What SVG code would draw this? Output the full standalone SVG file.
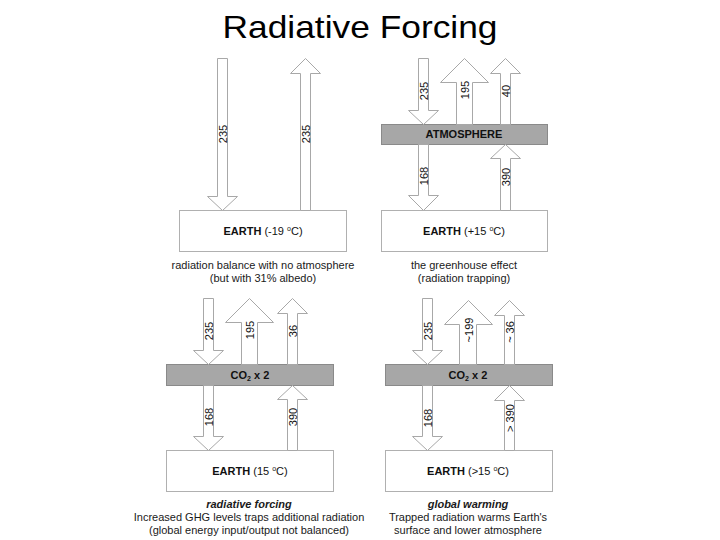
<svg xmlns="http://www.w3.org/2000/svg" width="720" height="540" viewBox="0 0 720 540">
<style>
text { font-family: "Liberation Sans", Arial, Helvetica, sans-serif; fill: #111; text-anchor: middle; }
.title { font-size: 32px; fill: #000; }
.lbl { font-size: 11px; }
.earth { font-size: 11px; }
.bart { font-size: 11px; font-weight: bold; }
.cap { font-size: 11px; fill: #1a1a1a; }
.capb { font-size: 11px; font-weight: bold; font-style: italic; fill: #1a1a1a; }
.arrow { fill: #fff; stroke: #a8a8a8; stroke-width: 1; }
.box { fill: #fff; stroke: #b0b0b0; stroke-width: 1; }
.bar { fill: #a7a7a7; stroke: #8a8a8a; stroke-width: 1; }
</style>
<rect width="720" height="540" fill="#fff"/>
<text class="title" x="360" y="38" textLength="275" lengthAdjust="spacingAndGlyphs">Radiative Forcing</text>

<!-- Panel nodes -->
<g id="tl-earth">
  <rect class="box" x="179.5" y="210.5" width="167" height="41"/>
  <text class="earth" x="263" y="235"><tspan font-weight="bold">EARTH</tspan> (-19 <tspan font-size="7" dy="-4">o</tspan><tspan dy="4">C)</tspan></text>
</g>
<g id="tl-caption">
  <text class="cap" x="263" y="269">radiation balance with no atmosphere</text>
  <text class="cap" x="263" y="282">(but with 31% albedo)</text>
</g>

<g id="tr-atmosphere">
  <rect class="bar" x="381.5" y="124.5" width="166" height="20"/>
  <text class="bart" x="464" y="138">ATMOSPHERE</text>
</g>
<g id="tr-earth">
  <rect class="box" x="381.5" y="210.5" width="166" height="41"/>
  <text class="earth" x="464" y="235"><tspan font-weight="bold">EARTH</tspan> (+15 <tspan font-size="7" dy="-4">o</tspan><tspan dy="4">C)</tspan></text>
</g>
<g id="tr-caption">
  <text class="cap" x="464" y="269">the greenhouse effect</text>
  <text class="cap" x="464" y="282">(radiation trapping)</text>
</g>

<g id="bl-co2">
  <rect class="bar" x="166.5" y="364.5" width="167" height="21"/>
  <text class="bart" x="250" y="379">CO<tspan font-size="7" dy="2">2</tspan><tspan dy="-2"> x 2</tspan></text>
</g>
<g id="bl-earth">
  <rect class="box" x="166.5" y="450.5" width="167" height="41"/>
  <text class="earth" x="250" y="475"><tspan font-weight="bold">EARTH</tspan> (15 <tspan font-size="7" dy="-4">o</tspan><tspan dy="4">C)</tspan></text>
</g>
<g id="bl-caption">
  <text class="capb" x="249" y="508">radiative forcing</text>
  <text class="cap" x="249" y="521">Increased GHG levels traps additional radiation</text>
  <text class="cap" x="249" y="534">(global energy input/output not balanced)</text>
</g>

<g id="br-co2">
  <rect class="bar" x="385.5" y="364.5" width="167" height="21"/>
  <text class="bart" x="468" y="379">CO<tspan font-size="7" dy="2">2</tspan><tspan dy="-2"> x 2</tspan></text>
</g>
<g id="br-earth">
  <rect class="box" x="385.5" y="450.5" width="167" height="41"/>
  <text class="earth" x="468" y="475"><tspan font-weight="bold">EARTH</tspan> (&gt;15 <tspan font-size="7" dy="-4">o</tspan><tspan dy="4">C)</tspan></text>
</g>
<g id="br-caption">
  <text class="capb" x="468" y="508">global warming</text>
  <text class="cap" x="468" y="521">Trapped radiation warms Earth's</text>
  <text class="cap" x="468" y="534">surface and lower atmosphere</text>
</g>

<!-- Connectors (radiation arrows) -->
<g id="connectors">
  <!-- top-left -->
  <polygon class="arrow" points="217.5,58.5 227.5,58.5 227.5,196.5 237.5,196.5 222.5,210.5 207.5,196.5 217.5,196.5"/>
  <polygon class="arrow" points="300.5,210.5 300.5,73.5 290.5,73.5 305.5,58.5 320.5,73.5 310.5,73.5 310.5,210.5"/>
  <!-- top-right -->
  <polygon class="arrow" points="418.5,58.5 428.5,58.5 428.5,110.5 438.5,110.5 423.5,124.5 408.5,110.5 418.5,110.5"/>
  <polygon class="arrow" points="456.5,124.5 456.5,82.5 440.5,82.5 464.5,58.5 488.5,82.5 472.5,82.5 472.5,124.5"/>
  <polygon class="arrow" points="500.5,124.5 500.5,73.5 490.5,73.5 505.5,58.5 520.5,73.5 510.5,73.5 510.5,124.5"/>
  <polygon class="arrow" points="418.5,144.5 428.5,144.5 428.5,195.5 438.5,195.5 423.5,210.5 408.5,195.5 418.5,195.5"/>
  <polygon class="arrow" points="500.5,210.5 500.5,158.5 490.5,158.5 505.5,144.5 520.5,158.5 510.5,158.5 510.5,210.5"/>
  <!-- bottom-left -->
  <polygon class="arrow" points="203.5,298.5 213.5,298.5 213.5,350.5 223.5,350.5 208.5,364.5 193.5,350.5 203.5,350.5"/>
  <polygon class="arrow" points="241.5,364.5 241.5,322.5 225.5,322.5 249.5,298.5 273.5,322.5 257.5,322.5 257.5,364.5"/>
  <polygon class="arrow" points="287.5,364.5 287.5,313.5 277.5,313.5 292.5,298.5 307.5,313.5 297.5,313.5 297.5,364.5"/>
  <polygon class="arrow" points="203.5,385.5 213.5,385.5 213.5,436.5 223.5,436.5 208.5,450.5 193.5,436.5 203.5,436.5"/>
  <polygon class="arrow" points="287.5,450.5 287.5,399.5 277.5,399.5 292.5,385.5 307.5,399.5 297.5,399.5 297.5,450.5"/>
  <!-- bottom-right -->
  <polygon class="arrow" points="422.5,298.5 432.5,298.5 432.5,350.5 442.5,350.5 427.5,364.5 412.5,350.5 422.5,350.5"/>
  <polygon class="arrow" points="459.5,364.5 459.5,324.5 444.5,324.5 468.5,300.5 492.5,324.5 476.5,324.5 476.5,364.5"/>
  <polygon class="arrow" points="504.5,364.5 504.5,315.5 494.5,315.5 509.5,300.5 524.5,315.5 514.5,315.5 514.5,364.5"/>
  <polygon class="arrow" points="422.5,385.5 432.5,385.5 432.5,436.5 442.5,436.5 427.5,450.5 412.5,436.5 422.5,436.5"/>
  <polygon class="arrow" points="504.5,450.5 504.5,400.5 494.5,400.5 509.5,385.5 524.5,400.5 514.5,400.5 514.5,450.5"/>

  <!-- labels -->
  <text class="lbl" transform="translate(222.5,134) rotate(-90)" y="4">235</text>
  <text class="lbl" transform="translate(305.5,134) rotate(-90)" y="4">235</text>
  <text class="lbl" transform="translate(423.5,91) rotate(-90)" y="4">235</text>
  <text class="lbl" transform="translate(464.5,90) rotate(-90)" y="4">195</text>
  <text class="lbl" transform="translate(505.5,91) rotate(-90)" y="4">40</text>
  <text class="lbl" transform="translate(423.5,176) rotate(-90)" y="4">168</text>
  <text class="lbl" transform="translate(505.5,177) rotate(-90)" y="4">390</text>
  <text class="lbl" transform="translate(208.5,331) rotate(-90)" y="4">235</text>
  <text class="lbl" transform="translate(249.5,330) rotate(-90)" y="4">195</text>
  <text class="lbl" transform="translate(292.5,331) rotate(-90)" y="4">36</text>
  <text class="lbl" transform="translate(208.5,417) rotate(-90)" y="4">168</text>
  <text class="lbl" transform="translate(292.5,417) rotate(-90)" y="4">390</text>
  <text class="lbl" transform="translate(427.5,331) rotate(-90)" y="4">235</text>
  <text class="lbl" transform="translate(468.5,330) rotate(-90)" y="4">~199</text>
  <text class="lbl" transform="translate(509.5,332) rotate(-90)" y="4">~ 36</text>
  <text class="lbl" transform="translate(427.5,418) rotate(-90)" y="4">168</text>
  <text class="lbl" transform="translate(509.5,418) rotate(-90)" y="4">&gt; 390</text>
</g>
</svg>
